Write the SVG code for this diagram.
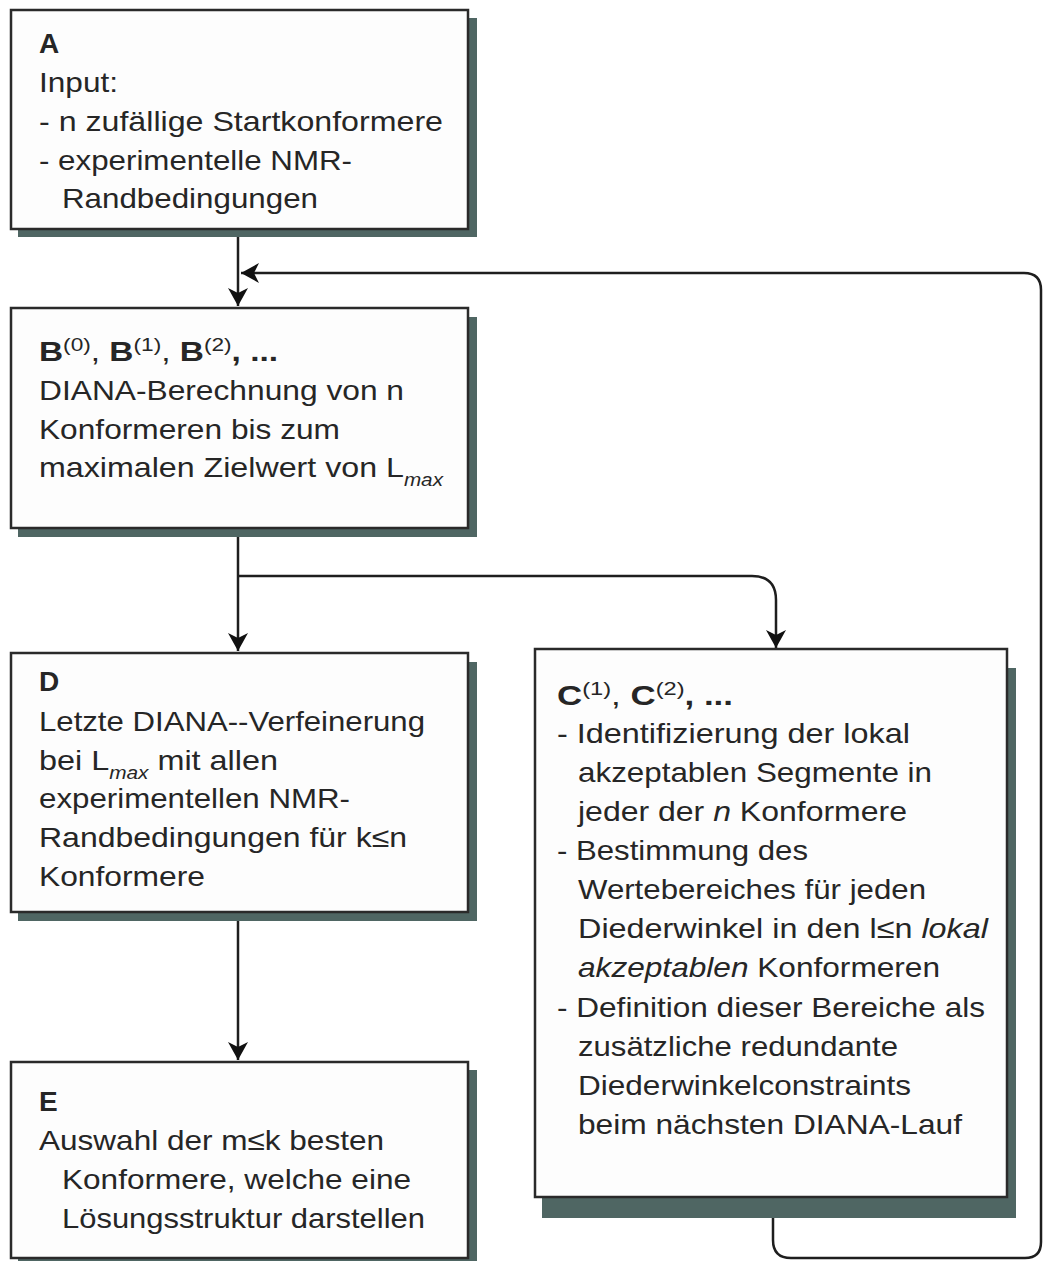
<svg xmlns="http://www.w3.org/2000/svg" width="1044" height="1261" viewBox="0 0 1044 1261">
<defs>
<style>
.box{fill:#fdfdfd;stroke:#2a2a2a;stroke-width:2.5}
.sh{fill:#4f6663}
.t{font-family:"Liberation Sans",Arial,sans-serif;font-size:28px;fill:#262626}
.b{font-weight:bold}
.sup{font-size:19px}
.sub{font-size:18px;font-style:italic}
.i{font-style:italic}
.con{fill:none;stroke:#1e1e1e;stroke-width:2.5}
</style>
<marker id="ah" markerUnits="userSpaceOnUse" markerWidth="20" markerHeight="22" refX="18" refY="10" orient="auto">
<path d="M0,0 L18,10 L0,20 L5,10 z" fill="#111"/>
</marker>
</defs>
<rect width="1044" height="1261" fill="#ffffff"/>

<g id="connectors">
<path class="con" d="M238,237 L238,306" marker-end="url(#ah)"/>
<path class="con" d="M773,1218 L773,1240 Q773,1258 791,1258 L1025,1258 Q1041,1258 1041,1242 L1041,290 Q1041,273 1024,273 L241,273" marker-end="url(#ah)"/>
<path class="con" d="M238,537 L238,651" marker-end="url(#ah)"/>
<path class="con" d="M238,576 L752,576 Q776,576 776,600 L776,648" marker-end="url(#ah)"/>
<path class="con" d="M238,921 L238,1060" marker-end="url(#ah)"/>
</g>

<g id="nodeA">
<rect class="sh" x="18" y="18" width="459" height="219"/>
<rect class="box" x="11" y="10" width="457" height="219"/>
<text class="t b" x="39" y="53">A</text>
<text class="t" x="39" y="92" textLength="79" lengthAdjust="spacingAndGlyphs">Input:</text>
<text class="t" x="39" y="131" textLength="404" lengthAdjust="spacingAndGlyphs">- n zufällige Startkonformere</text>
<text class="t" x="39" y="170" textLength="313" lengthAdjust="spacingAndGlyphs">- experimentelle NMR-</text>
<text class="t" x="62" y="208" textLength="256" lengthAdjust="spacingAndGlyphs">Randbedingungen</text>
</g>

<g id="nodeB">
<rect class="sh" x="18" y="317" width="459" height="220"/>
<rect class="box" x="11" y="308" width="457" height="220"/>
<text class="t" x="39" y="361" textLength="239" lengthAdjust="spacingAndGlyphs"><tspan class="b">B</tspan><tspan class="sup" dy="-10">(0)</tspan><tspan dy="10">, </tspan><tspan class="b">B</tspan><tspan class="sup" dy="-10">(1)</tspan><tspan dy="10">, </tspan><tspan class="b">B</tspan><tspan class="sup" dy="-10">(2)</tspan><tspan dy="10" class="b">, ...</tspan></text>
<text class="t" x="39" y="400" textLength="365" lengthAdjust="spacingAndGlyphs">DIANA-Berechnung von n</text>
<text class="t" x="39" y="439" textLength="301" lengthAdjust="spacingAndGlyphs">Konformeren bis zum</text>
<text class="t" x="39" y="477" textLength="404" lengthAdjust="spacingAndGlyphs">maximalen Zielwert von L<tspan class="sub" dy="9">max</tspan></text>
</g>

<g id="nodeD">
<rect class="sh" x="18" y="662" width="459" height="259"/>
<rect class="box" x="11" y="653" width="457" height="259"/>
<text class="t b" x="39" y="691">D</text>
<text class="t" x="39" y="731" textLength="386" lengthAdjust="spacingAndGlyphs">Letzte DIANA--Verfeinerung</text>
<text class="t" x="39" y="770" textLength="239" lengthAdjust="spacingAndGlyphs">bei L<tspan class="sub" dy="9">max</tspan><tspan dy="-9"> mit allen</tspan></text>
<text class="t" x="39" y="808" textLength="311" lengthAdjust="spacingAndGlyphs">experimentellen NMR-</text>
<text class="t" x="39" y="847" textLength="368" lengthAdjust="spacingAndGlyphs">Randbedingungen für k≤n</text>
<text class="t" x="39" y="886" textLength="166" lengthAdjust="spacingAndGlyphs">Konformere</text>
</g>

<g id="nodeE">
<rect class="sh" x="18" y="1070" width="459" height="200"/>
<rect class="box" x="11" y="1062" width="457" height="196"/>
<text class="t b" x="39" y="1111">E</text>
<text class="t" x="39" y="1150" textLength="345" lengthAdjust="spacingAndGlyphs">Auswahl der m≤k besten</text>
<text class="t" x="62" y="1189" textLength="349" lengthAdjust="spacingAndGlyphs">Konformere, welche eine</text>
<text class="t" x="62" y="1228" textLength="363" lengthAdjust="spacingAndGlyphs">Lösungsstruktur darstellen</text>
</g>

<g id="nodeC">
<rect class="sh" x="542" y="668" width="474" height="550"/>
<rect class="box" x="535" y="649" width="472" height="548"/>
<text class="t" x="557" y="705" textLength="176" lengthAdjust="spacingAndGlyphs"><tspan class="b">C</tspan><tspan class="sup" dy="-10">(1)</tspan><tspan dy="10">, </tspan><tspan class="b">C</tspan><tspan class="sup" dy="-10">(2)</tspan><tspan dy="10" class="b">, ...</tspan></text>
<text class="t" x="557" y="743" textLength="353" lengthAdjust="spacingAndGlyphs">- Identifizierung der lokal</text>
<text class="t" x="578" y="782" textLength="354" lengthAdjust="spacingAndGlyphs">akzeptablen Segmente in</text>
<text class="t" x="578" y="821" textLength="329" lengthAdjust="spacingAndGlyphs">jeder der <tspan class="i">n</tspan> Konformere</text>
<text class="t" x="557" y="860" textLength="251" lengthAdjust="spacingAndGlyphs">- Bestimmung des</text>
<text class="t" x="578" y="899" textLength="348" lengthAdjust="spacingAndGlyphs">Wertebereiches für jeden</text>
<text class="t" x="578" y="938" textLength="410" lengthAdjust="spacingAndGlyphs">Diederwinkel in den l≤n <tspan class="i">lokal</tspan></text>
<text class="t" x="578" y="977" textLength="362" lengthAdjust="spacingAndGlyphs"><tspan class="i">akzeptablen</tspan> Konformeren</text>
<text class="t" x="557" y="1017" textLength="428" lengthAdjust="spacingAndGlyphs">- Definition dieser Bereiche als</text>
<text class="t" x="578" y="1056" textLength="320" lengthAdjust="spacingAndGlyphs">zusätzliche redundante</text>
<text class="t" x="578" y="1095" textLength="333" lengthAdjust="spacingAndGlyphs">Diederwinkelconstraints</text>
<text class="t" x="578" y="1134" textLength="384" lengthAdjust="spacingAndGlyphs">beim nächsten DIANA-Lauf</text>
</g>
</svg>
